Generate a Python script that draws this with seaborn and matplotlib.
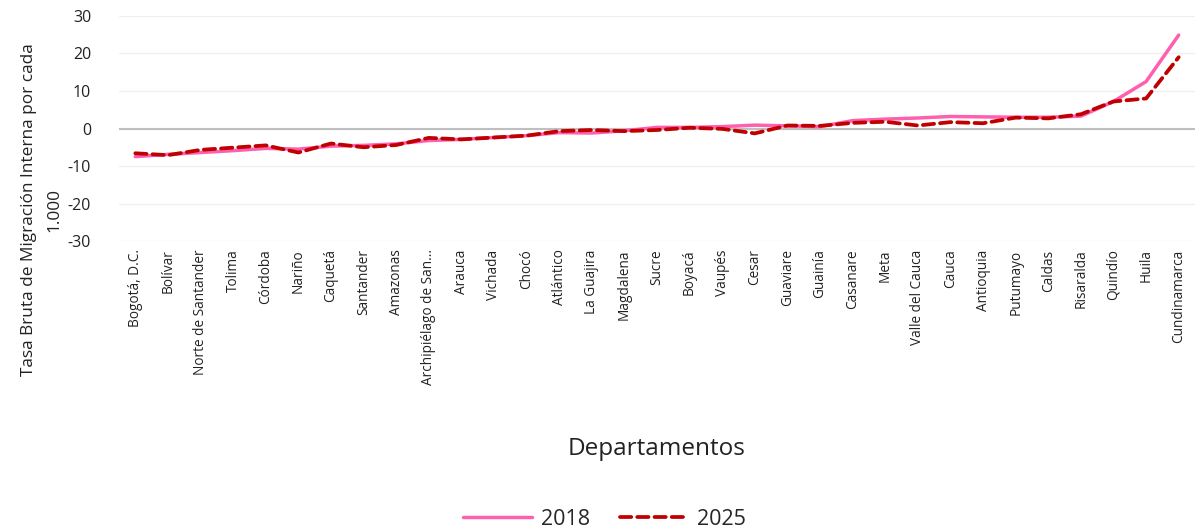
import matplotlib
matplotlib.use("Agg")
import matplotlib.pyplot as plt
import seaborn as sns
import pandas as pd

departamentos = ["Bogotá, D.C.", "Bolívar", "Norte de Santander", "Tolima", "Córdoba", "Nariño",
                 "Caquetá", "Santander", "Amazonas", "Archipiélago de San...", "Arauca", "Vichada",
                 "Chocó", "Atlántico", "La Guajira", "Magdalena", "Sucre", "Boyacá", "Vaupés",
                 "Cesar", "Guaviare", "Guainía", "Casanare", "Meta", "Valle del Cauca", "Cauca",
                 "Antioquia", "Putumayo", "Caldas", "Risaralda", "Quindío", "Huila", "Cundinamarca"]

tasa_2018 = [-7.5, -6.9, -6.4, -5.9, -5.3, -5.5, -4.7, -4.5, -4.1, -3.2, -2.9, -2.4, -1.9,
             -1.1, -1.2, -0.6, 0.3, 0.3, 0.5, 0.9, 0.7, 0.5, 2.1, 2.5, 2.8, 3.2, 3.1, 3.0,
             3.0, 3.3, 7.2, 12.5, 24.9]
tasa_2025 = [-6.6, -7.1, -5.7, -5.1, -4.5, -6.4, -4.0, -5.0, -4.4, -2.5, -2.9, -2.4, -1.9,
             -0.7, -0.4, -0.7, -0.4, 0.2, -0.1, -1.3, 0.8, 0.7, 1.5, 1.8, 0.8, 1.7, 1.4, 2.9,
             2.7, 3.8, 7.2, 8.0, 19.0]

df = pd.DataFrame({"Departamento": departamentos, "2018": tasa_2018, "2025": tasa_2025})

sns.set_theme(style="white")
plt.rcParams["font.family"] = ["Open Sans", "DejaVu Sans"]
plt.rcParams["axes.unicode_minus"] = False

fig = plt.figure(figsize=(11.95, 5.31), dpi=100)
ax = fig.add_axes([0.0996, 0.546, 0.9004, 0.424])

pink = "#FF5FAF"
red = "#C00000"

sns.lineplot(data=df, x="Departamento", y="2018", ax=ax, color=pink, linewidth=2.5,
             sort=False, label="2018")
sns.lineplot(data=df, x="Departamento", y="2025", ax=ax, color=red, linewidth=2.7,
             sort=False, label="2025")
ax.lines[1].set_dashes([3.0, 1.6])
ax.lines[1].set_dash_capstyle("round")

ax.set_ylim(-30, 30)
ax.set_yticks([-30, -20, -10, 0, 10, 20, 30])
ax.set_xlim(-0.5, len(departamentos) - 0.5)
ax.grid(axis="y", color="#F0F0F0", linewidth=1)
ax.axhline(0, color="#BFBFBF", linewidth=1.5, zorder=1)
for s in ax.spines.values():
    s.set_visible(False)
ax.tick_params(axis="both", length=0, labelcolor="#222222")
ax.tick_params(axis="y", pad=20, labelsize=11.5)
ax.tick_params(axis="x", labelsize=9.8, pad=6)
ax.set_xticks(range(len(departamentos)))
ax.set_xticklabels(departamentos, rotation=90, ha="center", va="top")

ax.set_xlabel("Departamentos", fontsize=17.5, color="#222222")
ax.xaxis.set_label_coords(0.5, -0.87)
ax.set_ylabel("Tasa Bruta de Migración Interna por cada\n1.000", fontsize=12.4,
              color="#222222", linespacing=1.75)
ax.yaxis.set_label_coords(-0.053, 0.14)

ax.get_legend().remove()
fig.legend(handles=[ax.lines[0], ax.lines[1]], labels=["2018", "2025"], loc="center",
           bbox_to_anchor=(0.506, 0.022), ncol=2, frameon=False, fontsize=15.5,
           handlelength=3.2, columnspacing=1.4, handletextpad=0.4)

fig.savefig("out.png", dpi=100)
